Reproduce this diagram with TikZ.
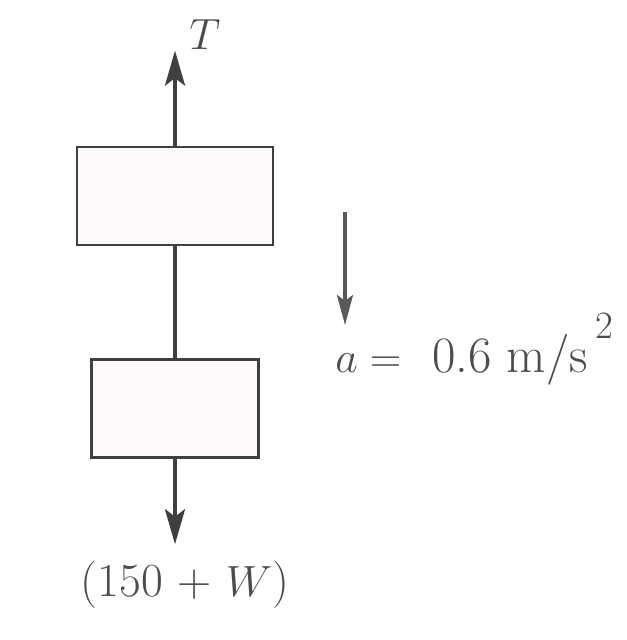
\documentclass[tikz,border=0pt]{standalone}
\usepackage{tikz}
\usetikzlibrary{positioning, arrows.meta}

\begin{document}
\begin{tikzpicture}[
  node distance=2.24cm and 0cm,
  every node/.style={text=black!70, font=\fontsize{27}{32}\selectfont},
  block/.style={rectangle, draw=black!75, line width=1.6pt, fill=red!2, minimum height=1.96cm},
  force/.style={-{Stealth[length=7mm, width=4mm, inset=1.5mm]}, draw=black!75, fill=black!75, line width=2.4pt},
  accel/.style={-{Stealth[length=6mm, width=3.2mm, inset=1.2mm]}, draw=black!65, fill=black!65, line width=2pt}
]
\useasboundingbox (0,0) rectangle (12.52,-12.8);

% Blocks
\node[block, minimum width=3.92cm] (upper) at (3.5,-3.92) {};
\node[block, minimum width=3.34cm] (lower) [below =of upper] {};

% Force ends
\coordinate (ttip) at ([yshift=1.9cm]upper.north);
\coordinate (wtip) at ([yshift=-1.7cm]lower.south);

% Forces
\draw[force] (upper.north) -- (ttip);
\draw[black!75, line width=2.4pt] (upper.south) -- (lower.north);
\draw[force] (lower.south) -- (wtip);

% Labels
\node (tlabel) at (4.1,-0.7) {$T$};
\node (wlabel) at (3.7,-11.7) {(150 + $W$)};

% Acceleration
\coordinate (astart) at (6.9,-4.24);
\coordinate (aend) at (6.9,-6.5);
\draw[accel] (astart) -- (aend);
\node[anchor=base west, inner sep=0pt, font=\fontsize{29}{34}\selectfont] (alabel) at (6.7,-7.44)
  {$a =$\hspace{0.6em}0.6\hspace{0.3em}m/s\hspace{0.15em}\raisebox{0.65em}{\fontsize{22}{22}\selectfont 2}};

\end{tikzpicture}
\end{document}
